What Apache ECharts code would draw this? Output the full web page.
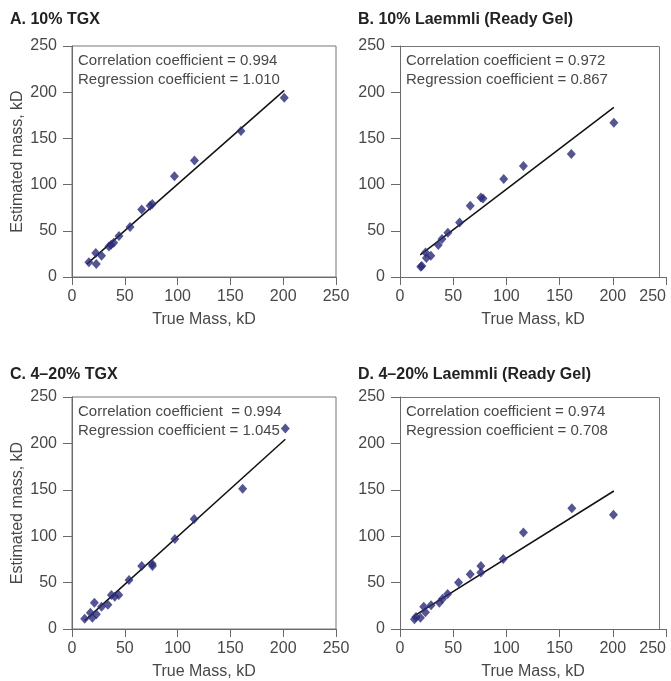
<!DOCTYPE html>
<html><head><meta charset="utf-8">
<script src="https://cdn.jsdelivr.net/npm/echarts@6/dist/echarts.min.js"></script>
<style>html,body{margin:0;padding:0;background:#fff}#c{width:671px;height:681px}</style>
</head><body><div id="c"></div>
<script>
const titles = ['A. 10% TGX', 'B. 10% Laemmli (Ready Gel)', 'C. 4\u201320% TGX', 'D. 4\u201320% Laemmli (Ready Gel)'];
const corrText = ['Correlation coefficient = 0.994', 'Correlation coefficient = 0.972', 'Correlation coefficient  = 0.994', 'Correlation coefficient = 0.974'];
const regText = ['Regression coefficient = 1.010', 'Regression coefficient = 0.867', 'Regression coefficient = 1.045', 'Regression coefficient = 0.708'];
const xName = 'True Mass, kD';
const yName = 'Estimated mass, kD';
const axisMin = 0, axisMax = 250, axisStep = 50;

// Panel A: 10% TGX
const trueA = [16, 22.5, 23, 28, 35, 37, 39.5, 44.5, 55, 66, 74, 76, 97, 116, 160, 201];
const estA  = [16, 26, 14, 23, 33, 35, 37, 44.5, 54, 73, 77, 79, 109, 126, 158, 194];
const fitA = [[14, 14], [201, 202]];
// Panel B: 10% Laemmli
const trueB = [19.5, 20.5, 24.8, 24, 29, 36, 39.5, 45, 56, 66, 76, 78, 97.5, 116, 161, 201];
const estB  = [11, 12, 20.5, 26.5, 23, 34.5, 41, 48, 59, 77, 86, 85, 106, 120, 133, 167];
const fitB = [[19, 24], [201, 183.5]];
// Panel C: 4-20% TGX
const trueC = [12, 17.4, 19.3, 21.2, 23.1, 28, 34, 37.3, 40.5, 44.3, 54, 66, 76, 76.2, 97.4, 115.7, 161.6, 202];
const estC  = [11, 17.6, 12, 28.3, 15.8, 24, 26, 36.6, 34.8, 36.6, 52.8, 68, 70, 68, 97, 118.5, 151, 216];
const fitC = [[12, 9], [202, 204.5]];
// Panel D: 4-20% Laemmli
const trueD = [13.6, 15, 19.2, 22.3, 23.9, 29.2, 37, 40, 44.8, 55, 66, 76, 76, 97, 116, 161.5, 200.6];
const estD  = [10.4, 13, 12, 24, 18, 25.5, 28.3, 32.7, 37.7, 50, 59, 68, 61, 75.4, 104, 130, 123];
const fitD = [[14.5, 15], [201, 148.7]];

const pts = (xs, ys) => xs.map((x, i) => [x, ys[i]]);
const scatterData = [pts(trueA, estA), pts(trueB, estB), pts(trueC, estC), pts(trueD, estD)];
const fitData = [fitA, fitB, fitC, fitD];

const font = 'Liberation Sans, Arial, sans-serif';
const grids = [
  {left: 72, top: 46, width: 264, height: 231},
  {left: 400, top: 46, width: 266, height: 231},
  {left: 72, top: 397, width: 264, height: 232},
  {left: 400, top: 397, width: 266, height: 232}
];
const titlePos = [[10, 12], [358, 12], [10, 367], [358, 367]];
const axisCol = '#6a6a6a', labCol = '#484848';

const option = {
  animation: false,
  backgroundColor: '#fff',
  title: titles.map((t, i) => ({
    text: t, left: titlePos[i][0], top: titlePos[i][1], padding: 0,
    textStyle: {fontFamily: font, fontSize: 16, fontWeight: 'bold', color: '#222'}
  })),
  grid: grids.map((g, i) => Object.assign({}, g, {
    show: i % 2 === 0, borderColor: '#777', borderWidth: 1, containLabel: false
  })),
  xAxis: grids.map((g, i) => ({
    type: 'value', gridIndex: i, min: axisMin, max: axisMax, interval: axisStep,
    name: xName, nameLocation: 'middle', nameGap: 35,
    nameTextStyle: {fontFamily: font, fontSize: 16, color: labCol},
    axisLine: {show: true, onZero: false, lineStyle: {color: axisCol}},
    axisTick: {show: true, length: 8, lineStyle: {color: axisCol}},
    axisLabel: {fontFamily: font, fontSize: 16, color: labCol, margin: 12, alignMaxLabel: i % 2 ? 'right' : null},
    splitLine: {show: false}
  })),
  yAxis: grids.map((g, i) => ({
    type: 'value', gridIndex: i, min: axisMin, max: axisMax, interval: axisStep,
    name: i % 2 === 0 ? yName : '', nameLocation: 'middle', nameGap: 46,
    nameTextStyle: {fontFamily: font, fontSize: 16, color: labCol},
    axisLine: {show: true, onZero: false, lineStyle: {color: axisCol}},
    axisTick: {show: true, length: 9, lineStyle: {color: axisCol}},
    axisLabel: {fontFamily: font, fontSize: 16, color: labCol, margin: 15},
    splitLine: {show: false}
  })),
  graphic: [
    {type: 'rect', shape: {x: 400.5, y: 46.5, width: 259, height: 231}, style: {fill: 'none', stroke: '#777', lineWidth: 1}, silent: true},
    {type: 'rect', shape: {x: 400.5, y: 397.5, width: 259, height: 232}, style: {fill: 'none', stroke: '#777', lineWidth: 1}, silent: true}
  ].concat(grids.map((g, i) => ({
    type: 'text', x: g.left + 6, y: g.top + 5,
    style: {text: corrText[i] + '\n' + regText[i], fontFamily: font, fontSize: 15, lineHeight: 19, fill: labCol}
  }))),
  series: [].concat(
    scatterData.map((d, i) => ({
      type: 'scatter', xAxisIndex: i, yAxisIndex: i, data: d,
      symbol: 'diamond', symbolSize: [9, 10],
      itemStyle: {color: '#2a2a78'}, z: 3
    })),
    fitData.map((d, i) => ({
      type: 'line', xAxisIndex: i, yAxisIndex: i, data: d,
      showSymbol: false, symbol: 'none',
      lineStyle: {color: '#111', width: 1.5}, z: 2
    }))
  )
};
echarts.init(document.getElementById('c'), null, {renderer: 'canvas'}).setOption(option);
</script></body></html>
